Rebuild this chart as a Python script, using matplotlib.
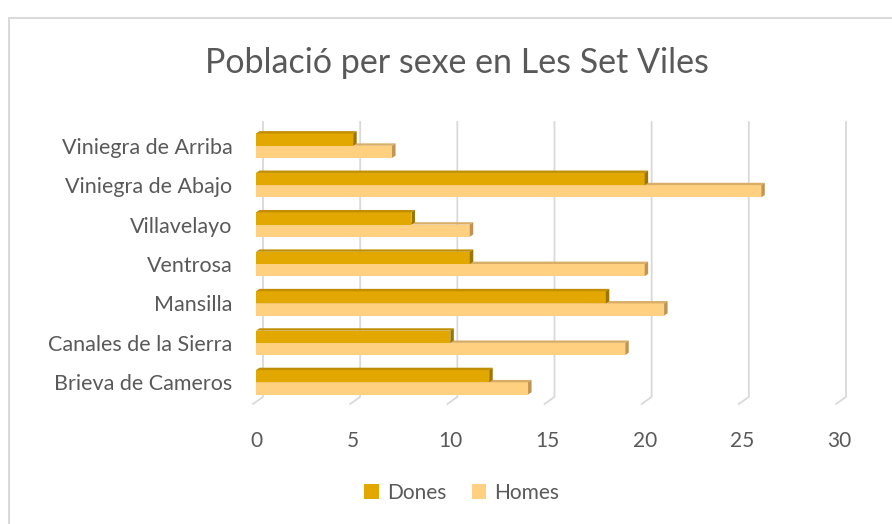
import matplotlib.pyplot as plt
from matplotlib.patches import Polygon, Rectangle, Patch

pobles = ["Brieva de Cameros", "Canales de la Sierra", "Mansilla", "Ventrosa",
          "Villavelayo", "Viniegra de Abajo", "Viniegra de Arriba"]
dones = [12, 10, 18, 11, 8, 20, 5]
homes = [14, 19, 21, 20, 11, 26, 7]
ticks = [0, 5, 10, 15, 20, 25, 30]

col_dones = ("#E2A800", "#C08E00", "#9C7400")   # front, top, side
col_homes = ("#FFD07F", "#D8AE66", "#C09452")
text_col = "#595959"
font = "Lato"

fig = plt.figure(figsize=(8.92, 5.24), dpi=100)
ax = fig.add_axes([256 / 892, 1 - 402 / 524, 583 / 892, 276 / 524])

# 3d-ish bars
h = 0.31
dx, dy = 0.18, 0.06


def bar3d(v, y0, cols):
    y1 = y0 + h
    ax.add_patch(Rectangle((0, y0), v, h, fc=cols[0], ec="none", zorder=3))
    ax.add_patch(Polygon([(0, y1), (v, y1), (v + dx, y1 + dy), (dx, y1 + dy)],
                         fc=cols[1], ec="none", zorder=3))
    ax.add_patch(Polygon([(v, y0), (v, y1), (v + dx, y1 + dy), (v + dx, y0 + dy)],
                         fc=cols[2], ec="none", zorder=3))


for i in range(len(pobles)):
    bar3d(homes[i], i - h, col_homes)
    bar3d(dones[i], i, col_dones)

# gridlines with the little floor slant
for t in ticks:
    ax.plot([t + 0.36, t + 0.36, t - 0.15], [6.6, -0.37, -0.55],
            color="#d9d9d9", lw=1.3, zorder=1, clip_on=False)

ax.set_xlim(0, 30)
ax.set_ylim(-0.5, 6.5)
ax.set_xticks(ticks)
ax.set_yticks(range(len(pobles)))
ax.set_yticklabels(pobles)
ax.tick_params(length=0, colors=text_col)
ax.tick_params(axis="x", pad=21, labelsize=15)
ax.tick_params(axis="y", pad=17, labelsize=15.5)
for lab in ax.get_xticklabels() + ax.get_yticklabels():
    lab.set_family(font)
for s in ax.spines.values():
    s.set_visible(False)

fig.text(457 / 892, 1 - 63 / 524, "Població per sexe en Les Set Viles",
         ha="center", va="center", fontsize=24.5, color=text_col, family=font)

handles = [Patch(fc=col_dones[0], label="Dones"), Patch(fc=col_homes[0], label="Homes")]
fig.legend(handles=handles, loc="center", bbox_to_anchor=(462 / 892, 1 - 493 / 524),
           ncol=2, frameon=False, handlelength=0.7, handleheight=0.7,
           handletextpad=0.4, columnspacing=1.2,
           prop={"family": font, "size": 15}, labelcolor=text_col)

fig.add_artist(Rectangle((8.5 / 892, -0.1), 1.2, 1 - 17.5 / 524 + 0.1,
                         transform=fig.transFigure, fill=False, ec="#d9d9d9", lw=1.5))

fig.savefig("out.png", dpi=100)
